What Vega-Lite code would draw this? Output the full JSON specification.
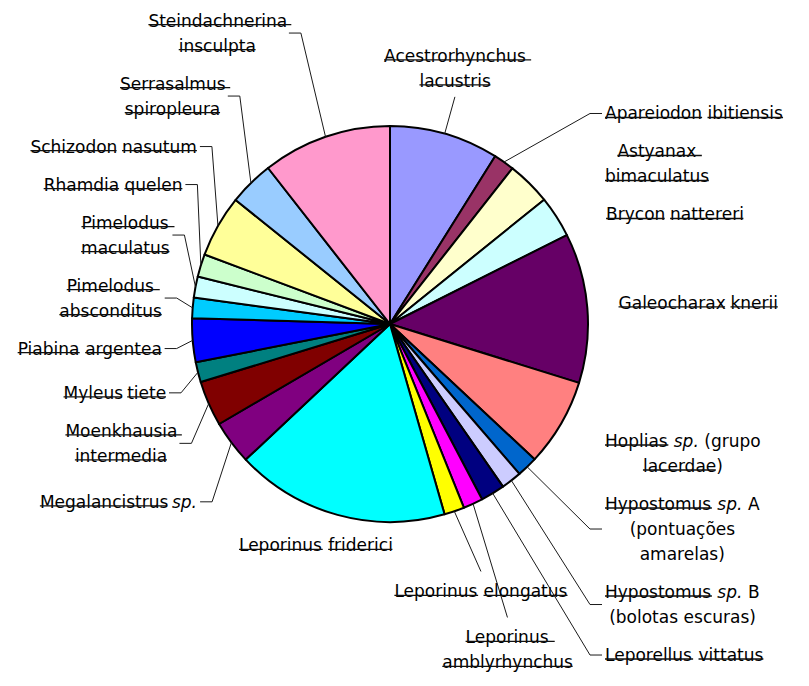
{
  "$schema": "https://vega.github.io/schema/vega-lite/v6.json",
  "width": 780,
  "height": 648,
  "padding": {"left": 0, "top": 0, "right": 29, "bottom": 38},
  "autosize": {"type": "none"},
  "background": "white",
  "config": {"view": {"stroke": null}},
  "data": {
    "values": [
      {"order": 1, "species": "Acestrorhynchus lacustris", "pct": 8.91, "lines": ["Acestrorhynchus", "lacustris"]},
      {"order": 2, "species": "Apareiodon ibitiensis", "pct": 1.70, "lines": ["Apareiodon ibitiensis"]},
      {"order": 3, "species": "Astyanax bimaculatus", "pct": 3.59, "lines": ["Astyanax", "bimaculatus"]},
      {"order": 4, "species": "Brycon nattereri", "pct": 3.39, "lines": ["Brycon nattereri"]},
      {"order": 5, "species": "Galeocharax knerii", "pct": 12.22, "lines": ["Galeocharax knerii"]},
      {"order": 6, "species": "Hoplias sp. (grupo lacerdae)", "pct": 7.17, "lines": ["Hoplias sp. (grupo", "lacerdae)"]},
      {"order": 7, "species": "Hypostomus sp. A (pontuações amarelas)", "pct": 1.69, "lines": ["Hypostomus sp. A", "(pontuações", "amarelas)"]},
      {"order": 8, "species": "Hypostomus sp. B (bolotas escuras)", "pct": 1.67, "lines": ["Hypostomus sp. B", "(bolotas escuras)"]},
      {"order": 9, "species": "Leporellus vittatus", "pct": 1.97, "lines": ["Leporellus vittatus"]},
      {"order": 10, "species": "Leporinus amblyrhynchus", "pct": 1.61, "lines": ["Leporinus", "amblyrhynchus"]},
      {"order": 11, "species": "Leporinus elongatus", "pct": 1.64, "lines": ["Leporinus elongatus"]},
      {"order": 12, "species": "Leporinus friderici", "pct": 17.44, "lines": ["Leporinus friderici"]},
      {"order": 13, "species": "Megalancistrus sp.", "pct": 3.58, "lines": ["Megalancistrus sp."]},
      {"order": 14, "species": "Moenkhausia intermedia", "pct": 3.69, "lines": ["Moenkhausia", "intermedia"]},
      {"order": 15, "species": "Myleus tiete", "pct": 1.64, "lines": ["Myleus tiete"]},
      {"order": 16, "species": "Piabina argentea", "pct": 3.56, "lines": ["Piabina argentea"]},
      {"order": 17, "species": "Pimelodus absconditus", "pct": 1.67, "lines": ["Pimelodus", "absconditus"]},
      {"order": 18, "species": "Pimelodus maculatus", "pct": 1.72, "lines": ["Pimelodus", "maculatus"]},
      {"order": 19, "species": "Rhamdia quelen", "pct": 1.86, "lines": ["Rhamdia quelen"]},
      {"order": 20, "species": "Schizodon nasutum", "pct": 5.06, "lines": ["Schizodon nasutum"]},
      {"order": 21, "species": "Serrasalmus spiropleura", "pct": 3.67, "lines": ["Serrasalmus", "spiropleura"]},
      {"order": 22, "species": "Steindachnerina insculpta", "pct": 10.56, "lines": ["Steindachnerina", "insculpta"]}
    ]
  },
  "layer": [
    {
      "mark": {"type": "arc", "outerRadius": 198, "stroke": "black", "strokeWidth": 2, "strokeJoin": "round"},
      "encoding": {
        "theta": {"field": "pct", "type": "quantitative", "stack": true},
        "order": {"field": "order", "type": "quantitative"},
        "color": {
          "field": "species",
          "type": "nominal",
          "legend": null,
          "scale": {
            "domain": [
              "Acestrorhynchus lacustris", "Apareiodon ibitiensis", "Astyanax bimaculatus", "Brycon nattereri",
              "Galeocharax knerii", "Hoplias sp. (grupo lacerdae)", "Hypostomus sp. A (pontuações amarelas)",
              "Hypostomus sp. B (bolotas escuras)", "Leporellus vittatus", "Leporinus amblyrhynchus",
              "Leporinus elongatus", "Leporinus friderici", "Megalancistrus sp.", "Moenkhausia intermedia",
              "Myleus tiete", "Piabina argentea", "Pimelodus absconditus", "Pimelodus maculatus",
              "Rhamdia quelen", "Schizodon nasutum", "Serrasalmus spiropleura", "Steindachnerina insculpta"
            ],
            "range": [
              "#9999FF", "#993366", "#FFFFCC", "#CCFFFF", "#660066", "#FF8080", "#0066CC", "#CCCCFF",
              "#000080", "#FF00FF", "#FFFF00", "#00FFFF", "#800080", "#800000", "#008080", "#0000FF",
              "#00CCFF", "#CCFFFF", "#CCFFCC", "#FFFF99", "#99CCFF", "#FF99CC"
            ]
          }
        }
      }
    },
    {
      "transform": [
        {"joinaggregate": [{"op": "sum", "field": "pct", "as": "total"}]},
        {"window": [{"op": "sum", "field": "pct", "as": "cum"}], "sort": [{"field": "order", "order": "ascending"}], "frame": [null, 0]},
        {"calculate": "(datum.cum - datum.pct / 2) / datum.total * 360", "as": "m"},
        {"calculate": "datum.m * PI / 180", "as": "rad"},
        {"calculate": "datum.m < 25 || datum.m >= 350 ? 'top' : datum.m < 150 ? 'right' : datum.m < 210 ? 'bottom' : 'left'", "as": "grp"},
        {"calculate": "length(datum.lines)", "as": "nl"},
        {"calculate": "(datum.nl - 1) * 25 + 12", "as": "ext"},
        {"calculate": "datum.ext / 2 + (datum.grp === 'bottom' ? 17 : 13)", "as": "h"},
        {"calculate": "-(datum.grp === 'left' ? 297 : datum.grp === 'right' ? 257.4 : datum.grp === 'bottom' ? 229.7 : 266) * cos(datum.rad)", "as": "nat"},
        {"calculate": "datum.grp === 'bottom' ? abs(datum.m - 180) : datum.m", "as": "key"},
        {"window": [{"op": "sum", "field": "h", "as": "hinc"}], "groupby": ["grp"], "sort": [{"field": "key", "order": "ascending"}], "frame": [null, 0]},
        {"calculate": "2 * datum.hinc - datum.h", "as": "D"},
        {"calculate": "(datum.grp === 'left' ? -datum.nat : datum.nat) - datum.D", "as": "t"},
        {"window": [{"op": "max", "field": "t", "as": "T"}], "groupby": ["grp"], "sort": [{"field": "key", "order": "ascending"}], "frame": [null, 0]},
        {"calculate": "(datum.grp === 'left' ? -1 : 1) * (datum.D + datum.T)", "as": "cyb"},
        {"calculate": "214 * sqrt(max(0.04, 1 - pow(datum.cyb / 320, 2)))", "as": "ell"},
        {"calculate": "datum.grp === 'left' ? -datum.ell : datum.grp === 'right' ? max(datum.ell, 200) : (datum.grp === 'bottom' ? 280 : 235) * sin(datum.rad)", "as": "ex"},
        {"calculate": "datum.grp === 'bottom' ? datum.cyb - datum.ext / 2 - 14 : datum.grp === 'top' ? datum.cyb + datum.ext / 2 + 10 : datum.cyb", "as": "ey"},
        {"calculate": "198 * sin(datum.rad)", "as": "px"},
        {"calculate": "-198 * cos(datum.rad)", "as": "py"},
        {"calculate": "datum.grp === 'left' ? datum.ex - 12 : datum.grp === 'right' ? datum.ex + 12 : datum.ex", "as": "sx"},
        {"calculate": "sqrt(pow(datum.ex - datum.px, 2) + pow(datum.ey - datum.py, 2)) > (datum.grp === 'right' ? 70 : datum.grp === 'bottom' ? 40 : 0)", "as": "lead"}
      ],
      "layer": [
        {
          "transform": [{"filter": "datum.lead"}],
          "mark": {"type": "rule", "color": "#1a1a1a", "strokeWidth": 1},
          "encoding": {
            "x": {"field": "px", "type": "quantitative", "scale": {"domain": [-390, 390], "nice": false, "zero": false}, "axis": null},
            "y": {"field": "py", "type": "quantitative", "scale": {"domain": [-324, 324], "nice": false, "zero": false, "reverse": true}, "axis": null},
            "x2": {"field": "ex"},
            "y2": {"field": "ey"}
          }
        },
        {
          "transform": [{"filter": "datum.lead && (datum.grp === 'left' || datum.grp === 'right')"}],
          "mark": {"type": "rule", "color": "#1a1a1a", "strokeWidth": 1},
          "encoding": {
            "x": {"field": "ex", "type": "quantitative", "scale": {"domain": [-390, 390], "nice": false, "zero": false}, "axis": null},
            "x2": {"field": "sx"},
            "y": {"field": "ey", "type": "quantitative", "scale": {"domain": [-324, 324], "nice": false, "zero": false, "reverse": true}, "axis": null}
          }
        },
        {
          "transform": [
            {"flatten": ["lines"], "as": ["line"]},
            {"window": [{"op": "row_number", "as": "li"}], "groupby": ["species"]},
            {"calculate": "split(datum.line, ' ')", "as": "words"},
            {"flatten": ["words"], "as": ["word"]},
            {"window": [{"op": "row_number", "as": "wi"}], "groupby": ["species", "li"]},
            {"calculate": "17 * (0.634*(length(datum.word)-length(replace(datum.word,regexp('[bdghnpqu]','g'),''))) + 0.613*(length(datum.word)-length(replace(datum.word,regexp('[aeoõ]','g'),''))) + 0.53*(length(datum.word)-length(replace(datum.word,regexp('[cçsz]','g'),''))) + 0.59*(length(datum.word)-length(replace(datum.word,regexp('[kvxy]','g'),''))) + 0.278*(length(datum.word)-length(replace(datum.word,regexp('[ijl]','g'),''))) + 0.39*(length(datum.word)-length(replace(datum.word,regexp('[frt()]','g'),''))) + 0.974*(length(datum.word)-length(replace(datum.word,regexp('m','g'),''))) + 0.818*(length(datum.word)-length(replace(datum.word,regexp('w','g'),''))) + 0.318*(length(datum.word)-length(replace(datum.word,regexp('[.]','g'),''))) + 0.69*(length(datum.word)-length(replace(datum.word,regexp('[ABR]','g'),''))) + 0.78*(length(datum.word)-length(replace(datum.word,regexp('[GHM]','g'),''))) + 0.6*(length(datum.word)-length(replace(datum.word,regexp('[LPS]','g'),''))))", "as": "ww"},
            {"calculate": "datum.ww + 5.406", "as": "wsp"},
            {"window": [{"op": "sum", "field": "wsp", "as": "cumw"}], "groupby": ["species", "li"], "sort": [{"field": "wi", "order": "ascending"}], "frame": [null, 0]},
            {"joinaggregate": [{"op": "sum", "field": "wsp", "as": "lsum"}, {"op": "count", "as": "nw"}], "groupby": ["species", "li"]},
            {"calculate": "datum.lsum - 5.406", "as": "lw"},
            {"joinaggregate": [{"op": "max", "field": "lw", "as": "bw"}], "groupby": ["species"]},
            {"calculate": "datum.grp === 'left' ? datum.ex - 15 - datum.bw / 2 : datum.grp === 'right' ? datum.ex + 15 + datum.bw / 2 : datum.ex", "as": "bc"},
            {"calculate": "datum.bc - datum.lw / 2 + datum.cumw - datum.wsp", "as": "wx"},
            {"calculate": "datum.cyb - datum.ext / 2 + 12 + (datum.li - 1) * 25", "as": "wy"},
            {"calculate": "datum.wy - 2", "as": "sy"},
            {"calculate": "!test(regexp('^(sp[.]|[AB]|[(].*|amarelas[)]|escuras[)])$'), datum.word)", "as": "struck"},
            {"calculate": "datum.wx + datum.ww - (indexof(datum.word, ')') >= 0 ? 6.63 : 0) + (datum.wi === datum.nw && datum.li < datum.nl ? 5.406 : 0)", "as": "se"}
          ],
          "layer": [
            {
              "transform": [{"filter": "datum.word !== 'sp.'"}],
              "mark": {"type": "text", "align": "left", "baseline": "alphabetic", "font": "DejaVu Sans", "fontSize": 17, "color": "black"},
              "encoding": {
                "x": {"field": "wx", "type": "quantitative", "scale": {"domain": [-390, 390], "nice": false, "zero": false}, "axis": null},
                "y": {"field": "wy", "type": "quantitative", "scale": {"domain": [-324, 324], "nice": false, "zero": false, "reverse": true}, "axis": null},
                "text": {"field": "word"}
              }
            },
            {
              "transform": [{"filter": "datum.word === 'sp.'"}],
              "mark": {"type": "text", "align": "left", "baseline": "alphabetic", "font": "DejaVu Sans", "fontSize": 17, "fontStyle": "italic", "color": "black"},
              "encoding": {
                "x": {"field": "wx", "type": "quantitative", "scale": {"domain": [-390, 390], "nice": false, "zero": false}, "axis": null},
                "y": {"field": "wy", "type": "quantitative", "scale": {"domain": [-324, 324], "nice": false, "zero": false, "reverse": true}, "axis": null},
                "text": {"field": "word"}
              }
            },
            {
              "transform": [{"filter": "datum.struck"}],
              "mark": {"type": "rule", "color": "#111111", "strokeWidth": 1.3},
              "encoding": {
                "x": {"field": "wx", "type": "quantitative", "scale": {"domain": [-390, 390], "nice": false, "zero": false}, "axis": null},
                "x2": {"field": "se"},
                "y": {"field": "sy", "type": "quantitative", "scale": {"domain": [-324, 324], "nice": false, "zero": false, "reverse": true}, "axis": null}
              }
            }
          ]
        }
      ]
    }
  ]
}
